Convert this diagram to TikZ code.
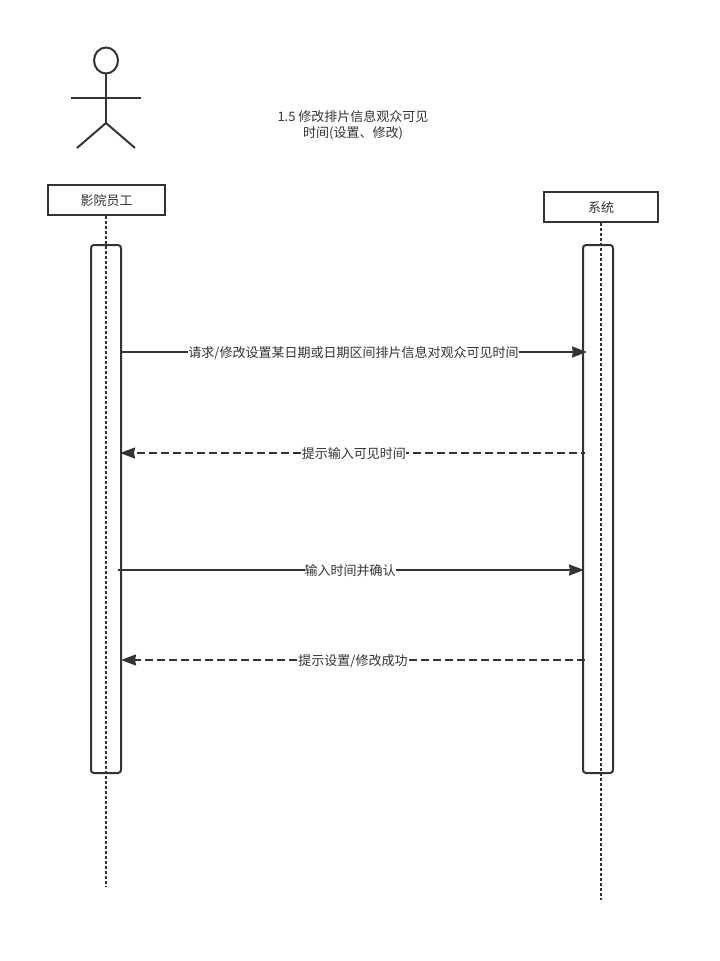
\documentclass[tikz,border=0pt]{standalone}
\usepackage{fontspec}
\setmainfont{Noto Sans CJK SC}
\usetikzlibrary{arrows.meta}
\definecolor{ink}{HTML}{333333}
\tikzset{
  every node/.style={text=ink,font=\fontsize{13bp}{16bp}\selectfont},
  lane/.style={draw=ink,line width=2bp,fill=white,minimum height=30bp,inner sep=0bp},
  bar/.style={draw=ink,line width=2bp,fill=white,rounded corners=3bp},
  life/.style={draw=ink,line width=2.4bp,dash pattern=on 2.5bp off 2.5bp},
  limb/.style={draw=ink,line width=2bp},
  msg/.style={draw=ink,line width=2bp,-{Stealth[length=15bp,width=11bp,inset=1bp,fill=ink]}},
  ret/.style={msg,dash pattern=on 8bp off 4bp},
  lab/.style={fill=white,inner xsep=0bp,inner ysep=1bp,yshift=-1bp}
}
\begin{document}
\begin{tikzpicture}[x=1bp,y=-1bp]
\useasboundingbox (0,0) rectangle (720,961);
% actor
\draw[limb] (106,60.5) circle[x radius=12,y radius=13];
\draw[limb] (106,73.5) -- (106,123);
\draw[limb] (71,98) -- (141,98);
\draw[limb] (77,148) -- (106,123) -- (135,148);
% title
\node[align=center] (title) at (353,125.5) {1.5 修改排片信息观众可见\\时间(设置、修改)};
% lanes
\node[lane,minimum width=117bp] (staff) at (106.5,200) {\raisebox{-1bp}[\height][\depth]{影院员工}};
\node[lane,minimum width=114bp] (sys) at (601,207) {\raisebox{-1bp}[\height][\depth]{系统}};
\coordinate (stafftop) at (106,216);
\coordinate (staffend) at (106,887);
\coordinate (systop) at (601,223);
\coordinate (sysend) at (601,900);
% activations
\node[bar,minimum width=30bp,minimum height=528bp,inner sep=0bp] (abar) at (106,509) {};
\node[bar,minimum width=30bp,minimum height=528bp,inner sep=0bp] (bbar) at (598,509) {};
\draw[life] (stafftop) -- (staffend);
\draw[life] (systop) -- (sysend);
% anchors
\coordinate (a1) at (121,352); \coordinate (b1) at (587,352);
\coordinate (b2) at (585,453); \coordinate (a2) at (120,453);
\coordinate (a3) at (118,570); \coordinate (b3) at (584,570);
\coordinate (b4) at (585,660); \coordinate (a4) at (121,660);
% messages
\draw[msg] (a1) -- (b1) node[lab,pos=0.499] (m1) {请求/修改设置某日期或日期区间排片信息对观众可见时间};
\draw[ret,dash phase=4bp] (b2) -- (a2) node[lab,pos=0.4968] (m2) {提示输入可见时间};
\draw[msg] (a3) -- (b3) node[lab,pos=0.4979] (m3) {输入时间并确认};
\draw[ret] (b4) -- (a4) node[lab,pos=0.5] (m4) {提示设置/修改成功};
\end{tikzpicture}
\end{document}
